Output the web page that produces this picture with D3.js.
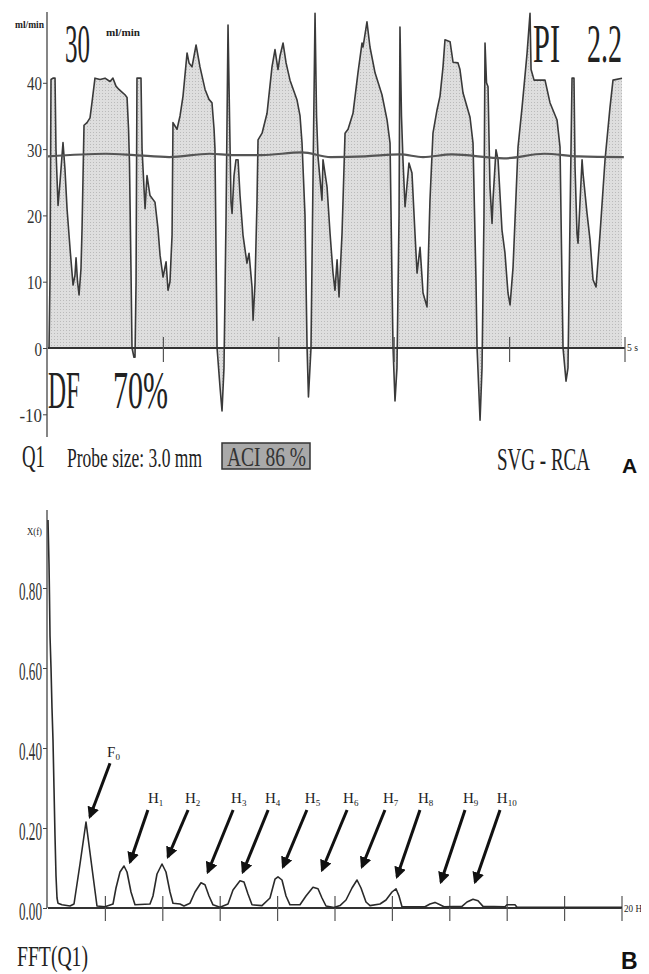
<!DOCTYPE html>
<html>
<head>
<meta charset="utf-8">
<script src="https://cdn.jsdelivr.net/npm/d3@7"></script>
<style>
  body { margin: 0; background: #fff; }
  svg { display: block; }
  text { font-family: "Liberation Serif", "Times New Roman", serif; fill: #222; }
</style>
</head>
<body>
<svg id="chart" width="649" height="974"></svg>
<script>
// ---- panel A: flow trace (time in s, flow in ml/min) ----
const flowTime = [
  0.009, 0.017, 0.026, 0.043, 0.061, 0.069, 0.087, 0.104, 0.130, 0.147, 0.165, 0.191, 0.217, 0.234, 0.243, 0.256,
  0.269, 0.286, 0.295, 0.312, 0.338, 0.364, 0.381, 0.407, 0.451, 0.494, 0.537, 0.563, 0.589, 0.615, 0.641, 0.667,
  0.685, 0.698, 0.706, 0.719, 0.728, 0.745, 0.754, 0.763, 0.771, 0.797, 0.806,
  0.815, 0.841, 0.858, 0.884, 0.927, 0.953, 0.971, 0.997, 1.023, 1.040, 1.057, 1.075, 1.083, 1.118, 1.144, 1.170,
  1.205, 1.222, 1.248, 1.283, 1.317, 1.361, 1.395, 1.421, 1.439, 1.447, 1.456, 1.465, 1.491, 1.508, 1.525, 1.543,
  1.560, 1.573, 1.586, 1.595,
  1.612, 1.629, 1.647, 1.664, 1.690, 1.724, 1.742, 1.768, 1.777, 1.794, 1.811, 1.820, 1.855, 1.898, 1.941, 1.967,
  1.993, 2.010, 2.037, 2.063, 2.097, 2.158, 2.184, 2.201, 2.227, 2.245, 2.257, 2.279, 2.296, 2.314, 2.327,
  2.340, 2.374, 2.383, 2.418, 2.444, 2.470, 2.487, 2.505, 2.522, 2.548, 2.574, 2.600, 2.643, 2.686, 2.721, 2.730,
  2.764, 2.790, 2.834, 2.894, 2.938, 2.964, 2.981, 2.990, 3.007, 3.024, 3.042, 3.050, 3.063,
  3.076, 3.094, 3.128, 3.154, 3.180, 3.198, 3.224, 3.250, 3.284, 3.310, 3.336, 3.371, 3.397, 3.423, 3.440, 3.484,
  3.510, 3.553, 3.570, 3.596, 3.657, 3.683, 3.709, 3.718, 3.744, 3.761, 3.778, 3.787, 3.800,
  3.813, 3.830, 3.848, 3.856, 3.882, 3.900, 3.934, 3.960, 3.986, 4.004, 4.030, 4.073, 4.108, 4.151, 4.177, 4.186,
  4.212, 4.307, 4.350, 4.411, 4.437, 4.454, 4.463, 4.489, 4.506, 4.524, 4.541, 4.558,
  4.567, 4.584, 4.593, 4.628, 4.636, 4.671, 4.697, 4.723, 4.749, 4.784, 4.827, 4.870, 4.896, 4.974
];
const flowValue = [
  0, 10, 40.5, 40.7, 40.7, 30, 21.5, 25, 31, 27, 21, 15, 9.5, 11, 13.6, 10,
  8, 12, 18, 33.6, 34, 34.7, 37, 40.7, 40.5, 40.7, 40.2, 40.7, 39.5, 39, 38.6, 38.2,
  37.8, 33, 28, 12, 0, -1.4, -1.4, 10, 40.7, 40.7, 40.7,
  30, 21, 26, 23, 22, 18, 14, 10.7, 13, 8.7, 10, 17, 34, 33, 35, 38,
  44.5, 43, 42.4, 45.7, 42.4, 39, 37.5, 37, 33, 30, 15, 0, -6, -9.5, -3, 20,
  48.7, 35, 22, 20.3,
  26, 28.4, 28.4, 23, 17, 12.8, 14.3, 9.2, 4.2, 9.8, 22, 31.4, 32.4, 35.4, 42.4, 45,
  42, 44, 46, 43, 40.4, 37.4, 35, 31, 20, 0, -7.4, 0, 25, 50.5, 35,
  28.8, 22.3, 28.4, 24.3, 17.3, 11.3, 8.7, 13.3, 7.7, 17.3, 32.4, 33, 35.4, 41.5, 46, 45.4,
  49.2, 45.4, 41.5, 38.2, 34.4, 30.9, 10, 0, -8, -3, 20, 48.4, 35,
  28.4, 21.3, 27.9, 26.4, 17.3, 11.3, 15.2, 8.3, 6.2, 22.3, 32.4, 35.9, 38, 42.4, 46.5, 46.2,
  43.1, 43, 42, 38.5, 34.8, 30.9, 10, 0, -10.9, -3, 20, 46, 40,
  39.4, 24.3, 18.8, 22.3, 29.9, 28.4, 17.8, 14.3, 8.3, 6.5, 12.2, 30.3, 36.3, 44.4, 50.5, 42,
  40.4, 40.4, 37, 34.4, 30.3, 10, 0, -5, -3, 20, 40.7, 40.7,
  27.3, 17.3, 15.8, 28.4, 26.4, 20.3, 16.3, 10.3, 9.2, 17.3, 28.4, 36.3, 40.4, 40.7
];
const meanTime = [0, 0.5, 0.75, 1.05, 1.4, 1.6, 1.85, 2.2, 2.45, 2.75, 3.05, 3.25, 3.5, 3.95, 4.3, 4.6, 4.99];
const meanValue = [28.9, 29.3, 29.1, 28.8, 29.3, 29.1, 29.1, 29.5, 28.8, 28.9, 29.2, 28.8, 29.2, 28.6, 29.3, 28.9, 28.8];
const flowTicksY = [-10, 0, 10, 20, 30, 40];
const timeTicks = [1, 2, 3, 4, 5];

// ---- panel B: spectrum (Hz, X(f)) ----
const fftFreq = [
  0, 0.035, 0.052, 0.070, 0.105, 0.139, 0.174, 0.209, 0.244, 0.279, 0.314, 0.348, 0.488, 0.767, 0.906, 1.115,
  1.324, 1.533, 1.707, 1.986, 2.265, 2.369, 2.509, 2.648, 2.753, 2.892, 3.031, 3.554, 3.658, 3.798, 3.972, 4.111,
  4.251, 4.355, 4.599, 4.738, 4.948, 5.122, 5.331, 5.470, 5.610, 5.749, 5.993, 6.272, 6.446, 6.690, 6.829, 6.968,
  7.108, 7.456, 7.735, 7.909, 8.014, 8.153, 8.293, 8.432, 8.780, 8.989, 9.233, 9.408, 9.547, 9.686, 9.965, 10.174,
  10.383, 10.592, 10.767, 10.906, 11.080, 11.220, 11.568, 11.777, 11.986, 12.125, 12.230, 12.334, 13.136, 13.310,
  13.484, 13.658, 13.798, 14.425, 14.599, 14.808, 14.983, 15.157, 15.923, 15.993, 16.272, 16.342, 20
];
const fftValue = [
  0.97, 0.86, 0.78, 0.68, 0.60, 0.50, 0.42, 0.30, 0.18, 0.08, 0.025, 0.012, 0.008, 0.005, 0.01, 0.11,
  0.215, 0.10, 0.005, 0.003, 0.01, 0.05, 0.09, 0.105, 0.09, 0.04, 0.008, 0.01, 0.03, 0.085, 0.11, 0.09,
  0.04, 0.012, 0.01, 0.005, 0.012, 0.04, 0.063, 0.058, 0.03, 0.008, 0.002, 0.01, 0.045, 0.068, 0.065, 0.035,
  0.008, 0.006, 0.025, 0.072, 0.078, 0.07, 0.03, 0.008, 0.008, 0.03, 0.052, 0.048, 0.025, 0.005, 0.001, 0.006,
  0.02, 0.05, 0.07, 0.05, 0.015, 0.006, 0.01, 0.02, 0.04, 0.048, 0.03, 0.003, 0.003, 0.01,
  0.014, 0.008, 0.003, 0.004, 0.015, 0.022, 0.018, 0.004, 0.003, 0.008, 0.008, 0.002, 0.002
];
const fftTicksY = [0, 0.2, 0.4, 0.6, 0.8];
const fftTickLabels = ['0.00', '0.20', '0.40', '0.60', '0.80'];
const freqTicks = [2, 4, 6, 8, 10, 12, 14, 16, 18, 20];
// harmonic annotations: label, subscript, label pos (f, v), arrow tail (f, v), arrow tip (f, v)
const harmName = ['F', 'H', 'H', 'H', 'H', 'H', 'H', 'H', 'H', 'H', 'H'];
const harmSub = ['0', '1', '2', '3', '4', '5', '6', '7', '8', '9', '10'];
const harmLabelF = [2.06, 3.48, 4.77, 6.38, 7.56, 8.95, 10.28, 11.67, 12.89, 14.46, 15.64];
const harmLabelV = [0.378, 0.263, 0.263, 0.263, 0.263, 0.263, 0.263, 0.263, 0.263, 0.263, 0.263];
const harmTailF = [2.16, 3.48, 4.88, 6.45, 7.67, 9.02, 10.42, 11.74, 12.96, 14.53, 15.75];
const harmTailV = [0.362, 0.245, 0.245, 0.245, 0.245, 0.245, 0.245, 0.245, 0.245, 0.245, 0.245];
const harmTipF = [1.46, 2.86, 4.18, 5.57, 6.79, 8.19, 9.55, 10.94, 12.16, 13.69, 14.88];
const harmTipV = [0.228, 0.115, 0.128, 0.09, 0.09, 0.103, 0.095, 0.103, 0.078, 0.065, 0.065];

const svg = d3.select('#chart');

// halftone-ish fill
let defs = svg.append('defs');
let pat = defs.append('pattern')
    .attr('id', 'dots')
    .attr('width', 3).attr('height', 3)
    .attr('patternUnits', 'userSpaceOnUse');
pat.append('rect').attr('width', 3).attr('height', 3).attr('fill', '#dedede');
pat.append('rect').attr('width', 1).attr('height', 1).attr('fill', '#bababa');
defs.append('clipPath').attr('id', 'page')
    .append('rect').attr('width', 641).attr('height', 974);

// helper: condensed serif text
function label(g, x, y, str, size, len, opts = {}) {
  let t = g.append('text')
      .attr('x', x).attr('y', y)
      .style('font-size', size + 'px')
      .text(str);
  if (len) t.attr('textLength', len).attr('lengthAdjust', 'spacingAndGlyphs');
  if (opts.bold) t.style('font-weight', 'bold');
  if (opts.family) t.style('font-family', opts.family);
  if (opts.fill) t.style('fill', opts.fill);
  return t;
}

// ================= PANEL A =================
let xA = d3.scaleLinear().domain([0, 5]).range([48, 625]);
let yA = d3.scaleLinear().domain([-10, 50]).range([414.3, 16.5]);
let gA = svg.append('g');

let flow = flowTime.map((t, i) => ({ t, v: flowValue[i] }));

gA.append('path')
    .datum(flow)
    .attr('fill', 'url(#dots)')
    .attr('d', d3.area().x(d => xA(d.t)).y0(yA(0)).y1(d => yA(d.v)));

gA.append('path')
    .datum(flow)
    .attr('fill', 'none')
    .attr('stroke', '#3a3a3a')
    .attr('stroke-width', 1.6)
    .attr('stroke-linejoin', 'round')
    .attr('d', d3.line().x(d => xA(d.t)).y(d => yA(d.v)));

gA.append('path')
    .datum(meanTime.map((t, i) => ({ t, v: meanValue[i] })))
    .attr('fill', 'none')
    .attr('stroke', '#555')
    .attr('stroke-width', 2.2)
    .attr('d', d3.line().x(d => xA(d.t)).y(d => yA(d.v)).curve(d3.curveMonotoneX));

// y axis A
gA.append('line')
    .attr('x1', 47).attr('x2', 47).attr('y1', 12).attr('y2', 437)
    .attr('stroke', '#444').attr('stroke-width', 1.3);
let ayA = gA.append('g')
    .attr('transform', 'translate(47,0)')
    .call(d3.axisLeft(yA).tickValues(flowTicksY).tickSize(4).tickPadding(1).tickFormat(d => d));
ayA.select('.domain').remove();
ayA.selectAll('line').attr('stroke', '#444');
ayA.selectAll('text')
    .attr('dy', 7)
    .style('font-size', '19px')
    .style('font-family', '"Liberation Serif", serif')
    .style('fill', '#333')
    .attr('textLength', d => String(d).length * 7.5)
    .attr('lengthAdjust', 'spacingAndGlyphs');

// x axis A
gA.append('line')
    .attr('x1', xA(0)).attr('x2', xA(5)).attr('y1', yA(0)).attr('y2', yA(0))
    .attr('stroke', '#333').attr('stroke-width', 2);
gA.selectAll('line.ttick')
    .data(timeTicks)
    .enter().append('line')
    .classed('ttick', true)
    .attr('x1', d => xA(d)).attr('x2', d => xA(d))
    .attr('y1', yA(0) - 11).attr('y2', yA(0) + 14)
    .attr('stroke', '#555').attr('stroke-width', 1.2);

let cA = gA.append('g').attr('clip-path', 'url(#page)');
label(cA, 627, 351, '5 s', 10, 11);
label(gA, 15, 28, 'ml/min', 10, 29, { bold: true });

label(gA, 65, 62, '30', 54, 25);
label(gA, 106, 36, 'ml/min', 11, 34, { bold: true });
label(gA, 533, 62, 'PI', 54, 27);
label(gA, 587, 62, '2.2', 54, 35);
label(gA, 48, 408, 'DF', 52, 32);
label(gA, 113, 408, '70%', 52, 55);

label(gA, 22, 467, 'Q1', 31, 23);
label(gA, 67, 467, 'Probe size: 3.0 mm', 28, 135);
gA.append('rect')
    .attr('x', 222).attr('y', 443).attr('width', 88).attr('height', 26)
    .attr('fill', '#a9a9a9').attr('stroke', '#333').attr('stroke-width', 1.5);
label(gA, 227, 466, 'ACI 86 %', 27, 79, { fill: '#333' });
label(gA, 497, 470, 'SVG - RCA', 31, 93);
label(gA, 622, 473, 'A', 21, null, { bold: true, family: '"Liberation Sans", Arial, sans-serif', fill: '#111' });

// ================= PANEL B =================
let xB = d3.scaleLinear().domain([0, 20]).range([48, 622]);
let yB = d3.scaleLinear().domain([0, 1]).range([908, 508]);
let gB = svg.append('g');

gB.append('line')
    .attr('x1', 47).attr('x2', 47).attr('y1', 510).attr('y2', yB(0))
    .attr('stroke', '#444').attr('stroke-width', 1.3);
let ayB = gB.append('g')
    .attr('transform', 'translate(47,0)')
    .call(d3.axisLeft(yB).tickValues(fftTicksY).tickSize(4).tickPadding(1).tickFormat((d, i) => fftTickLabels[i]));
ayB.select('.domain').remove();
ayB.selectAll('line').attr('stroke', '#444');
ayB.selectAll('text')
    .attr('dy', 11)
    .style('font-size', '26px')
    .style('font-family', '"Liberation Serif", serif')
    .style('fill', '#333')
    .attr('textLength', 23)
    .attr('lengthAdjust', 'spacingAndGlyphs');
label(gB, 27, 535, 'X(f)', 11, 15);

gB.append('line')
    .attr('x1', xB(0)).attr('x2', xB(20)).attr('y1', yB(0)).attr('y2', yB(0))
    .attr('stroke', '#333').attr('stroke-width', 2);
gB.selectAll('line.ftick')
    .data(freqTicks)
    .enter().append('line')
    .classed('ftick', true)
    .attr('x1', d => xB(d)).attr('x2', d => xB(d))
    .attr('y1', yB(0) - 12).attr('y2', yB(0) + 13)
    .attr('stroke', '#555').attr('stroke-width', 1.2);

gB.append('path')
    .datum(fftFreq.map((f, i) => ({ f, v: fftValue[i] })))
    .attr('fill', 'none')
    .attr('stroke', '#2a2a2a')
    .attr('stroke-width', 1.6)
    .attr('stroke-linejoin', 'round')
    .attr('d', d3.line().x(d => xB(d.f)).y(d => yB(d.v)));

let cB = gB.append('g').attr('clip-path', 'url(#page)');
label(cB, 624, 912, '20 Hz', 11, 22);

// arrows + harmonic labels
defs.append('marker')
    .attr('id', 'head')
    .attr('viewBox', '0 0 10 10')
    .attr('refX', 8).attr('refY', 5)
    .attr('markerWidth', 4).attr('markerHeight', 4)
    .attr('markerUnits', 'strokeWidth')
    .attr('orient', 'auto')
  .append('path')
    .attr('d', 'M0,0 L10,5 L0,10 Z')
    .attr('fill', '#111');

let harm = harmName.map((n, i) => ({ n, s: harmSub[i], lf: harmLabelF[i], lv: harmLabelV[i],
  tf: harmTailF[i], tv: harmTailV[i], pf: harmTipF[i], pv: harmTipV[i] }));

gB.selectAll('line.arrow')
    .data(harm)
    .enter().append('line')
    .classed('arrow', true)
    .attr('x1', d => xB(d.tf)).attr('y1', d => yB(d.tv))
    .attr('x2', d => xB(d.pf)).attr('y2', d => yB(d.pv))
    .attr('stroke', '#111')
    .attr('stroke-width', 3)
    .attr('marker-end', 'url(#head)');

let ht = gB.selectAll('text.harm')
    .data(harm)
    .enter().append('text')
    .classed('harm', true)
    .attr('x', d => xB(d.lf))
    .attr('y', d => yB(d.lv))
    .style('font-size', '15px');
ht.append('tspan').text(d => d.n);
ht.append('tspan')
    .attr('dy', 3)
    .style('font-size', '9px')
    .text(d => d.s);

label(gB, 17, 966, 'FFT(Q1)', 30, 71);
label(gB, 621, 969, 'B', 23, null, { bold: true, family: '"Liberation Sans", Arial, sans-serif', fill: '#111' });
</script>
</body>
</html>
